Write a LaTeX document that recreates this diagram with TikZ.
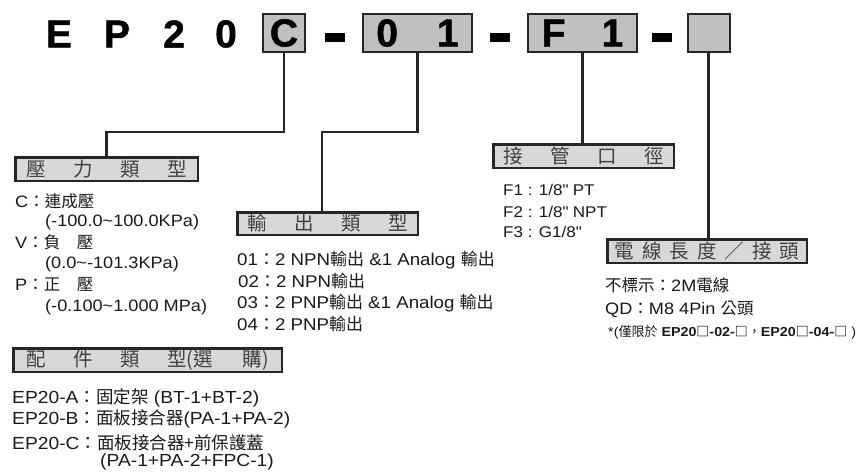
\documentclass[tikz,border=0pt]{standalone}
\usepackage{fontspec}
\setmainfont[FakeStretch=1.1]{Liberation Sans}
\newfontfamily\cjk{Noto Sans CJK TC}
\newfontfamily\codefont[FakeBold=1.2]{Liberation Sans Bold}
\newcommand{\cj}[1]{{\cjk #1}}
\definecolor{codegray}{RGB}{192,192,192}
\definecolor{headgray}{RGB}{216,216,216}
\tikzset{
    codebox/.style={draw=black!85, line width=2pt, fill=codegray, minimum height=38pt, inner sep=0pt,
        font=\codefont\fontsize{39}{39}\selectfont},
    codechar/.style={inner sep=0pt, font=\codefont\fontsize{39}{39}\selectfont},
    dashbar/.style={fill=black, minimum width=20pt, minimum height=9pt, inner sep=0pt},
    headbox/.style={draw=black!85, line width=2.5pt, fill=headgray, minimum height=23.5pt, inner sep=0pt,
        text=black!75, font=\cjk\fontsize{19.5}{20}\selectfont},
    item/.style={anchor=base west, inner sep=0pt, text=black!90, font=\fontsize{16.5}{18}\selectfont},
    link/.style={draw=black!85, line width=2.5pt},
}
\begin{document}
\begin{tikzpicture}[x=1pt, y=-1pt]
    \useasboundingbox (0,0) rectangle (861,471);

    \node[codechar] (e) at (59,34) {E};
    \node[codechar] (p) at (117,34) {P};
    \node[codechar] (two) at (174,34) {2};
    \node[codechar] (zero) at (226,34) {0};
    \node[codebox, minimum width=42pt] (pcode) at (284,33) {C};
    \node[dashbar] (dash1) at (335,37) {};
    \node[codebox, minimum width=109pt] (ocode) at (417.5,33) {0\hspace{39pt}1};
    \node[dashbar] (dash2) at (500,37) {};
    \node[codebox, minimum width=109pt] (fcode) at (582.5,33) {F\hspace{36pt}1};
    \node[dashbar] (dash3) at (662,37) {};
    \node[codebox, minimum width=42pt] (ccode) at (708.5,33) {};

    \node[headbox, minimum width=182.5pt] (ptype) at (106.5,169)
        {壓\hspace{27.5pt}力\hspace{27.5pt}類\hspace{27.5pt}型};
    \node[headbox, minimum width=180.5pt, minimum height=22.5pt] (otype) at (327.5,223.5)
        {輸\hspace{27.5pt}出\hspace{27.5pt}類\hspace{27.5pt}型};
    \node[headbox, minimum width=180.5pt] (ftype) at (583.5,156)
        {接\hspace{27.5pt}管\hspace{27.5pt}口\hspace{27.5pt}徑};
    \node[headbox, minimum width=199.5pt] (ctype) at (707,251)
        {電\hspace{8pt}線\hspace{8pt}長\hspace{8pt}度\hspace{8pt}／\hspace{8pt}接\hspace{8pt}頭};
    \node[headbox, minimum width=268.5pt] (atype) at (147.5,360)
        {配\hspace{27.5pt}件\hspace{27.5pt}類\hspace{27.5pt}型(選\hspace{30pt}購)};

    \draw[link] (pcode.south) -- ++(0,79) -| (ptype.north);
    \draw[link] (ocode.south) -- ++(0,79) -| ([xshift=-5.5pt]otype.north);
    \draw[link] (fcode.south) -- (fcode.south |- ftype.north);
    \draw[link] (ccode.south) -- (ccode.south |- ctype.north);

    \def\pl{15}
    \def\pr{45}
    \node[item] (p1) at (\pl,207) {C\cj{：連成壓}};
    \node[item] (p2) at (\pr,226) {(-100.0\textasciitilde100.0KPa)};
    \node[item] (p3) at (\pl,248) {V\cj{：負　壓}};
    \node[item] (p4) at (\pr,268) {(0.0\textasciitilde-101.3KPa)};
    \node[item] (p5) at (\pl,290) {P\cj{：正　壓}};
    \node[item] (p6) at (\pr,311) {(-0.100\textasciitilde1.000 MPa)};

    \node[item, font=\fontsize{17}{18}\selectfont] (o1) at (237,265) {01\cj{：}2 NPN\cj{輸出} \&1 Analog \cj{輸出}};
    \node[item, font=\fontsize{17}{18}\selectfont] (o2) at (238,287) {02\cj{：}2 NPN\cj{輸出}};
    \node[item, font=\fontsize{17}{18}\selectfont] (o3) at (237,308) {03\cj{：}2 PNP\cj{輸出} \&1 Analog \cj{輸出}};
    \node[item, font=\fontsize{17}{18}\selectfont] (o4) at (237,330) {04\cj{：}2 PNP\cj{輸出}};

    \node[item, font=\fontsize{15.5}{17}\selectfont] (f1) at (503,195) {F1 : 1/8\textquotedbl{} PT};
    \node[item, font=\fontsize{15.5}{17}\selectfont] (f2) at (503,217) {F2 : 1/8\textquotedbl{} NPT};
    \node[item, font=\fontsize{15.5}{17}\selectfont] (f3) at (503,237) {F3 : G1/8\textquotedbl};

    \node[item] (c1) at (605,291) {\cj{不標示：}2M\cj{電線}};
    \node[item] (c2) at (605,314) {QD\cj{：}M8 4Pin \cj{公頭}};
    \node[item, font=\fontsize{13}{14}\selectfont] (c3) at (608,336)
        {*(\cj{僅限於} \textbf{EP20\cj{□}-02-\cj{□}}\cj{，}\textbf{EP20\cj{□}-04-\cj{□}} )};

    \node[item, font=\fontsize{17.5}{19}\selectfont] (a1) at (12,403) {EP20-A\cj{：固定架} (BT-1+BT-2)};
    \node[item, font=\fontsize{17.5}{19}\selectfont] (a2) at (12,424) {EP20-B\cj{：面板接合器}(PA-1+PA-2)};
    \node[item, font=\fontsize{17.5}{19}\selectfont] (a3) at (12,449) {EP20-C\cj{：面板接合器+前保護蓋}};
    \node[item, font=\fontsize{17.5}{19}\selectfont] (a4) at (100,466) {(PA-1+PA-2+FPC-1)};
\end{tikzpicture}
\end{document}
